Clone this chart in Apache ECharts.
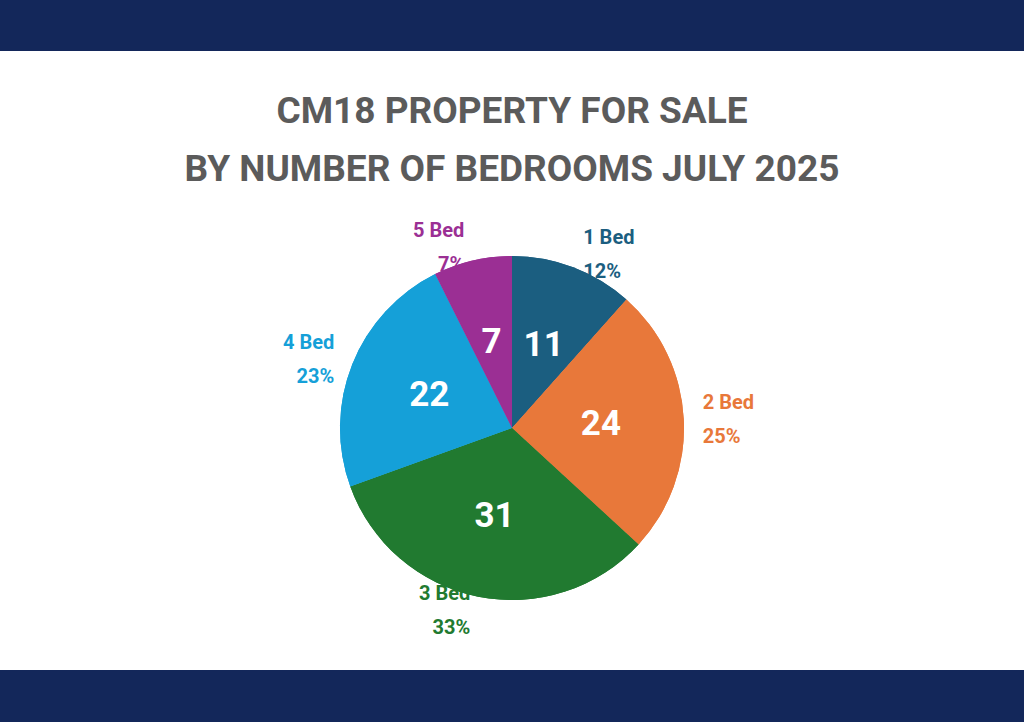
<!DOCTYPE html>
<html>
<head>
<meta charset="utf-8">
<style>
* { margin: 0; padding: 0; }
html, body { width: 100%; height: 100%; background: #fff; }
.band { position: absolute; left: 0; width: 100%; background: #13275a; }
#chart { position: absolute; left: 0; top: 0; width: 1024px; height: 722px; }
</style>
</head>
<body>
<div class="band" style="top:0;height:51px"></div>
<div class="band" style="top:670px;height:52px"></div>
<div id="chart"></div>
<script src="https://cdn.jsdelivr.net/npm/echarts@6/dist/echarts.min.js"></script>
<script>
var categories = ['1 Bed', '2 Bed', '3 Bed', '4 Bed', '5 Bed'];
var counts = [11, 24, 31, 22, 7];
var colors = ['#1b5e80', '#e8783a', '#217a30', '#15a0d8', '#9b2f94'];

var pieData = [];
for (var i = 0; i < categories.length; i++) {
	pieData.push({ name: categories[i], value: counts[i], itemStyle: { color: colors[i] }, label: { color: colors[i] } });
}
var innerData = [];
for (var j = 0; j < categories.length; j++) {
	innerData.push({ name: categories[j], value: counts[j], itemStyle: { color: colors[j] } });
}

var myChart = echarts.init(document.getElementById('chart'), null, { renderer: 'svg' });
var option = {
	title: {
		text: 'CM18 PROPERTY FOR SALE\nBY NUMBER OF BEDROOMS JULY 2025',
		left: 'center',
		top: 76,
		textStyle: { color: '#5b5b5b', fontSize: 37, fontWeight: 'bold', lineHeight: 58, fontFamily: 'Roboto' }
	},
	series: [{
		type: 'pie',
		center: [512, 428],
		radius: 172,
		startAngle: 90,
		percentPrecision: 0,
		silent: true,
		data: pieData,
		label: {
			show: true,
			position: 'outside',
			formatter: '{b}\n{d}%',
			fontSize: 20,
			fontWeight: 'bold',
			lineHeight: 34,
			fontFamily: 'Roboto',
			align: 'center'
		},
		labelLine: { show: false, length: 14, length2: 0 }
	}, {
		type: 'pie',
		center: [512, 428],
		radius: 172,
		startAngle: 90,
		silent: true,
		data: innerData,
		label: {
			show: true,
			position: 'inside',
			formatter: '{c}',
			color: '#fff',
			fontSize: 35,
			fontWeight: 'bold',
			fontFamily: 'Roboto'
		}
	}]
};
myChart.setOption(option);
</script>
</body>
</html>
